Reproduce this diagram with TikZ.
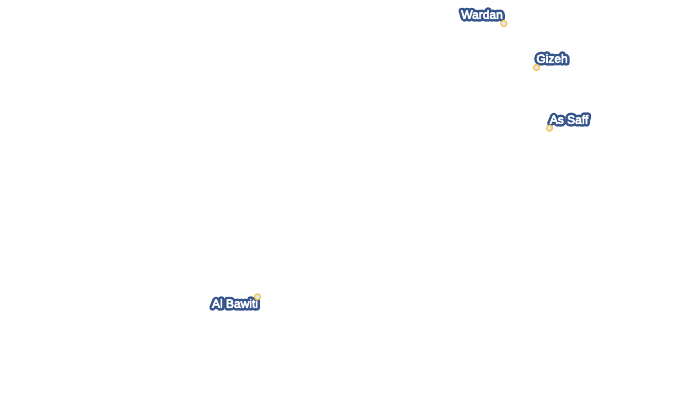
\documentclass[tikz,border=0pt]{standalone}
\usepackage{fontspec}
\setmainfont{Liberation Sans}
\newfontfamily\myhalofont[FakeBold=46]{Liberation Sans}
\newfontfamily\mylabelfont[FakeBold=5]{Liberation Sans}
\definecolor{halo}{RGB}{54,85,140}
\definecolor{ring}{RGB}{247,196,76}
\definecolor{dotfill}{RGB}{228,232,238}
\tikzset{
  place/.style={circle,draw=ring,fill=dotfill,line width=1.2pt,minimum size=6pt,inner sep=0pt},
  halotext/.style={inner sep=0pt,text=halo,font=\myhalofont\fontsize{12}{14}\selectfont},
  labeltext/.style={inner sep=0pt,text=white,font=\mylabelfont\fontsize{12}{14}\selectfont}
}
\newcommand{\placelabel}[3]{%
  \node[halotext] at (#2) {#3};
  \node[labeltext] (#1) at (#2) {#3};
}
\begin{document}
\begin{tikzpicture}[x=1pt,y=-1pt,line join=round,line cap=round]
\useasboundingbox (0,0) rectangle (700,410);
\begin{scope}[line join=round]
\placelabel{lWardan}{482,14.5}{Wardan}
\placelabel{lGizeh}{552,58.5}{Gizeh}
\placelabel{lSaff}{569,119.5}{As Saff}
\placelabel{lBawiti}{235,303.5}{Al Bawiti}
\end{scope}
\node[place] (mWardan) at (503.8,23.5) {};
\node[place] (mGizeh) at (536.5,67.5) {};
\node[place] (mSaff) at (549.5,128.2) {};
\node[place] (mBawiti) at (257.5,296.8) {};
\end{tikzpicture}
\end{document}
